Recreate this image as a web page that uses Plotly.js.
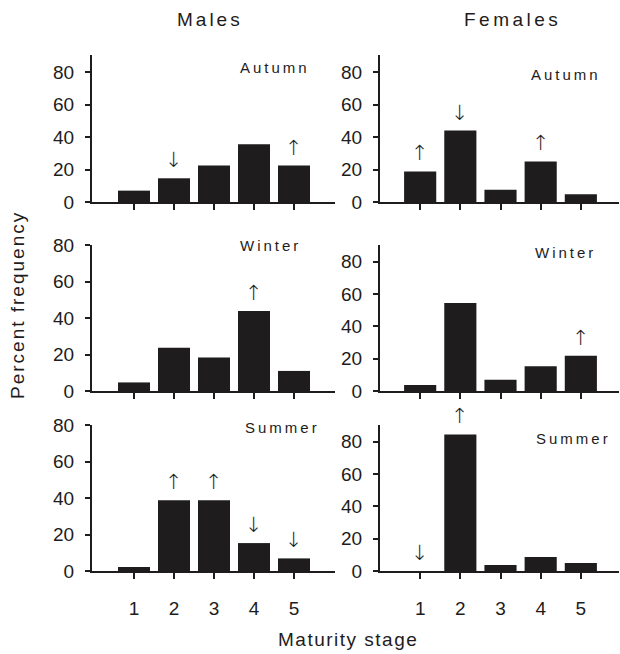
<!DOCTYPE html>
<html>
<head>
<meta charset="utf-8">
<script src="https://cdn.plot.ly/plotly-3.0.1.min.js"></script>
<style>
  html, body { margin: 0; padding: 0; background: #fff; }
  #chart { width: 620px; height: 654px; }
</style>
</head>
<body>
<div id="chart"></div>
<script>
// ---- data ----
const stages = [1, 2, 3, 4, 5];
const stageLabels = ['1', '2', '3', '4', '5'];
const yTicks = [0, 20, 40, 60, 80];

const malesAutumn   = [7, 14.6, 22.4, 35.5, 22.4];
const femalesAutumn = [18.8, 44, 7.6, 25, 4.8];
const malesWinter   = [4.7, 23.7, 18.3, 43.8, 11];
const femalesWinter = [3.7, 54.4, 7, 15.3, 21.8];
const malesSummer   = [2.2, 38.7, 38.7, 15.3, 6.9];
const femalesSummer = [0, 84.5, 3.7, 8.7, 4.9];

const malesAutumnArrows   = ['', '↓', '', '', '↑'];
const femalesAutumnArrows = ['↑', '↓', '', '↑', ''];
const malesWinterArrows   = ['', '', '', '↑', ''];
const femalesWinterArrows = ['', '', '', '', '↑'];
const malesSummerArrows   = ['', '↑', '↑', '↓', '↓'];
const femalesSummerArrows = ['↓', '↑', '', '', ''];

const seasons = ['Autumn', 'Winter', 'Summer'];
const sexes = ['Males', 'Females'];

// ---- panels ----
const panels = [
  {vals: malesAutumn,   arrows: malesAutumnArrows,   season: seasons[0]},
  {vals: femalesAutumn, arrows: femalesAutumnArrows, season: seasons[0]},
  {vals: malesWinter,   arrows: malesWinterArrows,   season: seasons[1]},
  {vals: femalesWinter, arrows: femalesWinterArrows, season: seasons[1]},
  {vals: malesSummer,   arrows: malesSummerArrows,   season: seasons[2]},
  {vals: femalesSummer, arrows: femalesSummerArrows, season: seasons[2]}
];

const W = 620, H = 654;
const FONT = 'Liberation Sans, Arial, Helvetica, sans-serif';
const INK = '#1e1c1c';

// pixel geometry
const colX = [[92, 335], [380, 619]];
const colRange = [[-0.05, 6.025], [0.0, 5.95]];
const rowY = [[55, 202], [245, 391], [425, 571]];
const yRanges = [[0, 90.5], [0, 90.5], [0, 80], [0, 90.3], [0, 80], [0, 90.3]];
const seasonPos = [[312, 68], [603, 75], [303, 245], [598, 253], [322, 427], [613, 438]];

const data = [];
const layout = {
  width: W, height: H,
  margin: {l: 0, r: 0, t: 0, b: 0},
  paper_bgcolor: '#fff', plot_bgcolor: 'rgba(0,0,0,0)',
  showlegend: false,
  bargap: 0.2,
  font: {family: FONT, color: INK, size: 18},
  annotations: []
};

panels.forEach((p, i) => {
  const row = Math.floor(i / 2), col = i % 2;
  const n = i === 0 ? '' : String(i + 1);
  const xa = 'x' + n, ya = 'y' + n;
  data.push({
    type: 'bar', x: stages, y: p.vals,
    xaxis: xa, yaxis: ya,
    marker: {color: INK, line: {width: 0}},
    hoverinfo: 'skip'
  });
  layout['xaxis' + n] = {
    domain: [colX[col][0] / W, colX[col][1] / W],
    range: colRange[col],
    anchor: ya,
    showline: true, linewidth: 2, linecolor: INK,
    ticks: 'outside', ticklen: 6, tickwidth: 2, tickcolor: INK,
    tickvals: stages, ticktext: stageLabels,
    showticklabels: row === 2,
    ticklabelstandoff: 13,
    tickfont: {size: 19, family: FONT, color: INK},
    showgrid: false, zeroline: false, fixedrange: true
  };
  layout['yaxis' + n] = {
    domain: [1 - rowY[row][1] / H, 1 - rowY[row][0] / H],
    range: yRanges[i],
    anchor: xa,
    showline: true, linewidth: 2, linecolor: INK,
    ticks: 'outside', ticklen: 5, tickwidth: 2, tickcolor: INK,
    tickvals: yTicks,
    ticklabelstandoff: 7,
    tickfont: {size: 19, family: FONT, color: INK},
    showgrid: false, zeroline: false, fixedrange: true
  };
  // significance arrows
  p.arrows.forEach((a, k) => {
    if (!a) return;
    layout.annotations.push({
      xref: xa, yref: ya, x: stages[k], y: p.vals[k],
      text: a, showarrow: false,
      xanchor: 'center', yanchor: 'bottom', yshift: 4,
      font: {size: 21, family: 'DejaVu Sans', weight: 200, color: INK}
    });
  });
  // season label
  layout.annotations.push({
    xref: 'paper', yref: 'paper',
    x: seasonPos[i][0] / W, y: 1 - seasonPos[i][1] / H,
    xanchor: 'right', yanchor: 'middle',
    text: '<span style="letter-spacing:3px">' + p.season + '</span>',
    showarrow: false,
    font: {size: 15, family: FONT, color: INK}
  });
});

// column titles
layout.annotations.push({
  xref: 'paper', yref: 'paper', x: 210 / W, y: 1 - 19 / H,
  xanchor: 'center', yanchor: 'middle', showarrow: false,
  text: '<span style="letter-spacing:3px">' + sexes[0] + '</span>',
  font: {size: 19, family: FONT, color: INK}
});
layout.annotations.push({
  xref: 'paper', yref: 'paper', x: 512 / W, y: 1 - 19 / H,
  xanchor: 'center', yanchor: 'middle', showarrow: false,
  text: '<span style="letter-spacing:3.5px">' + sexes[1] + '</span>',
  font: {size: 19, family: FONT, color: INK}
});
// shared axis titles
layout.annotations.push({
  xref: 'paper', yref: 'paper', x: 348 / W, y: 1 - 639 / H,
  xanchor: 'center', yanchor: 'middle', showarrow: false,
  text: '<span style="letter-spacing:1.5px">Maturity stage</span>',
  font: {size: 19, family: FONT, color: INK}
});
layout.annotations.push({
  xref: 'paper', yref: 'paper', x: 17 / W, y: 1 - 305 / H,
  xanchor: 'center', yanchor: 'middle', showarrow: false, textangle: -90,
  text: '<span style="letter-spacing:2px">Percent frequency</span>',
  font: {size: 19, family: FONT, color: INK}
});

Plotly.newPlot('chart', data, layout, {staticPlot: true, displayModeBar: false});
</script>
</body>
</html>
